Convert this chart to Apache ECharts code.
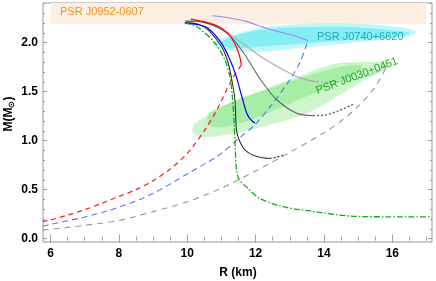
<!DOCTYPE html>
<html><head><meta charset="utf-8">
<script src="https://cdn.jsdelivr.net/npm/echarts@6/dist/echarts.min.js"></script>
<style>html,body{margin:0;padding:0;background:#fff}#c{width:436px;height:281px}</style>
</head><body><div id="c"></div>
<script>
// ---- tick values ----
var xMajor = [6, 8, 10, 12, 14, 16];
var xMinor = [6.5, 7, 7.5, 8.5, 9, 9.5, 10.5, 11, 11.5, 12.5, 13, 13.5, 14.5, 15, 15.5, 16.5, 17];
var yMajor = [0, 0.5, 1.0, 1.5, 2.0];
var yMinor = [0.1, 0.2, 0.3, 0.4, 0.6, 0.7, 0.8, 0.9, 1.1, 1.2, 1.3, 1.4, 1.6, 1.7, 1.8, 1.9, 2.1, 2.2, 2.3, 2.4];

// ---- observational regions (R km, M Msun) ----
var bandJ0952 = [[6, 2.188], [17, 2.188], [17, 2.41], [6, 2.41]];
var cyanOuter = [[10.75,1.997],[11.25,2.068],[12.12,2.15],[13.29,2.191],[14.46,2.201],[15.63,2.181],[16.36,2.15],[16.68,2.109],[16.51,2.068],[15.63,2.028],[14.46,1.987],[13.29,1.946],[12.41,1.915],[11.68,1.905],[11.1,1.925],[10.81,1.956]];
var cyanInner = [[11.01,2.007],[11.54,2.089],[12.41,2.14],[13.58,2.16],[14.75,2.16],[15.92,2.13],[16.51,2.099],[16.07,2.058],[14.75,2.028],[13.58,1.997],[12.41,1.966],[11.54,1.946],[11.1,1.966]];
var greenOuter = [[10.16,1.138],[10.37,1.21],[10.81,1.291],[11.39,1.383],[11.98,1.465],[12.56,1.567],[13.29,1.66],[13.88,1.741],[14.46,1.792],[15.19,1.803],[15.77,1.803],[15.89,1.772],[15.77,1.721],[15.19,1.619],[14.46,1.465],[13.58,1.291],[12.71,1.189],[11.83,1.108],[11.1,1.057],[10.51,1.036],[10.22,1.057]];
var greenInner = [[10.6,1.26],[11.1,1.363],[11.83,1.465],[12.71,1.567],[13.58,1.669],[14.46,1.751],[15.04,1.772],[15.1,1.721],[14.46,1.598],[13.58,1.465],[12.71,1.332],[11.83,1.21],[11.1,1.138],[10.66,1.158]];

// ---- M-R curves ----
var redSolid = [[10.1,2.24],[10.6,2.205],[10.95,2.16],[11.2,2.09],[11.38,2.0],[11.5,1.9],[11.56,1.82],[11.58,1.77]];
var redDashed = [[11.58,1.77],[11.3,1.62],[10.86,1.31],[10.5,1.1],[10.0,0.87],[9.5,0.71],[9.0,0.59],[8.5,0.5],[8.0,0.43],[7.5,0.36],[7.0,0.295],[6.5,0.24],[6.0,0.19],[5.77,0.175]];
var blueSolid = [[9.93,2.2],[10.3,2.185],[10.6,2.15],[11.0,1.995],[11.25,1.825],[11.44,1.65],[11.54,1.52],[11.63,1.41],[11.72,1.3],[11.8,1.24],[11.9,1.2],[11.98,1.18]];
var blueDashed = [[5.77,0.125],[6,0.145],[7,0.22],[8,0.32],[9,0.46],[10,0.66],[10.5,0.76],[11,0.87],[11.5,1.02],[12,1.17],[12.5,1.38],[13,1.62],[13.3,1.8],[13.54,2.03]];
var lavender = [[10.74,2.275],[11.2,2.255],[11.7,2.22],[12.2,2.16],[12.7,2.11],[13.1,2.075],[13.53,2.02]];
var grayDashed = [[5.77,0.085],[6,0.095],[7,0.135],[8,0.185],[9,0.275],[10,0.375],[11,0.515],[12,0.69],[13,0.88],[14,1.08],[14.5,1.2],[15,1.35],[15.5,1.55],[15.85,1.77]];
var lightGray = [[9.95,2.22],[10.37,2.215],[10.95,2.15],[11.63,1.99],[12.32,1.82],[13.1,1.67],[13.5,1.62],[13.8,1.6]];
var lightGrayDot = [[13.8,1.6],[14.3,1.6],[14.85,1.62],[15.4,1.68],[15.85,1.77]];
var darkGray = [[9.95,2.22],[10.37,2.215],[11.15,2.1],[11.64,1.9],[12.13,1.63],[12.61,1.42],[13.2,1.28],[13.68,1.255]];
var darkGrayDot = [[13.68,1.255],[14.0,1.26],[14.4,1.3],[14.85,1.37]];
var blackSolid = [[9.93,2.205],[10.3,2.19],[10.61,2.13],[11.0,1.96],[11.2,1.79],[11.34,1.55],[11.4,1.4],[11.44,1.11],[11.55,0.98],[11.7,0.9],[11.93,0.85],[12.2,0.825],[12.41,0.818]];
var blackDot = [[12.41,0.818],[12.6,0.83],[12.8,0.85]];
var greenDashDot = [[9.93,2.2],[10.3,2.16],[10.81,1.995],[11.1,1.825],[11.25,1.65],[11.32,1.45],[11.37,1.2],[11.4,0.95],[11.44,0.7],[11.52,0.6],[11.63,0.56],[11.78,0.51],[12.12,0.41],[12.8,0.325],[13.78,0.272],[14.75,0.23],[15.92,0.222],[17.15,0.221]];

var xMin = 5.78, xMax = 17.16, yMin = -0.035, yMax = 2.405;
var FONT = '"Liberation Sans", Arial, sans-serif';

function xAx(pos, vals, len, lab) {
  return {type:'value', min:xMin, max:xMax, position:pos, axisLine:{show:false}, splitLine:{show:false},
    axisTick:{show:true, inside:true, length:len, customValues:vals, lineStyle:{color:'#999', width:1}},
    axisLabel: lab ? {show:true, customValues:vals, color:'#000', fontWeight:'bold', fontSize:12, fontFamily:FONT, margin:6} : {show:false}};
}
function yAx(pos, vals, len, lab) {
  return {type:'value', min:yMin, max:yMax, position:pos, axisLine:{show:false}, splitLine:{show:false},
    axisTick:{show:true, inside:true, length:len, customValues:vals, lineStyle:{color:'#999', width:1}},
    axisLabel: lab ? {show:true, customValues:vals, color:'#000', fontWeight:'bold', fontSize:12, fontFamily:FONT, margin:5,
      formatter:function(v){return Number(v).toFixed(1);}} : {show:false}};
}
function poly(pts, color, z, sm) {
  return {type:'custom', xAxisIndex:0, yAxisIndex:0, z:z, silent:true, clip:true, data:[[pts[0][0], pts[0][1]]],
    renderItem:function(params, api){
      return {type:'polygon', shape:{points:pts.map(function(p){return api.coord(p);}), smooth:sm}, style:{fill:color}};
    }};
}
function line(data, color, type, width, z) {
  return {type:'line', xAxisIndex:0, yAxisIndex:0, data:data, showSymbol:false, symbol:'none', smooth:0.3, z:z||5,
    lineStyle:{color:color, type:type, width:width||1.2}, silent:true, animation:false};
}

var chart = echarts.init(document.getElementById('c'), null, {renderer:'canvas'});
chart.setOption({
  animation:false,
  grid:{left:43, top:3, right:4, bottom:39, show:true, borderColor:'#999', borderWidth:1, backgroundColor:'transparent'},
  xAxis:[xAx('bottom', xMajor, 4, true), xAx('bottom', xMinor, 2, false), xAx('top', xMajor, 4, false), xAx('top', xMinor, 2, false)],
  yAxis:[yAx('left', yMajor, 4, true), yAx('left', yMinor, 2, false), yAx('right', yMajor, 4, false), yAx('right', yMinor, 2, false)],
  series:[
    poly(bandJ0952, '#fdeee2', 1, 0),
    poly(cyanOuter, '#bdf7f9', 2, 0.35),
    poly(cyanInner, '#86eef3', 2, 0.35),
    poly(greenOuter, '#cdf6cd', 2, 0.35),
    poly(greenInner, '#a6eea6', 2, 0.35),
    line(grayDashed, '#999999', [6,5], 1.1),
    line(redDashed, '#ff1a1a', [5,4], 1.2),
    line(blueDashed, '#6070ff', [6,4], 1.1),
    line(lavender, '#8c8cf5', 'solid', 1.1),
    line(lightGray, '#aaaaaa', 'solid', 1.1),
    line(lightGrayDot, '#aaaaaa', [2,2], 1.4),
    line(darkGray, '#666666', 'solid', 1.1),
    line(darkGrayDot, '#666666', [2,2], 1.4),
    line(blackSolid, '#333333', 'solid', 1.1),
    line(blackDot, '#333333', [2,2], 1.4),
    line(redSolid, '#ff0000', 'solid', 1.2),
    line(blueSolid, '#0000ff', 'solid', 1.2),
    line(greenDashDot, '#11aa11', [6,2,1.5,2], 1.3)
  ],
  graphic:[
    {type:'text', x:60, y:12, z:100, style:{text:'PSR J0952-0607', fill:'#f7901e', font:'11px '+FONT, textAlign:'left', textVerticalAlign:'middle'}},
    {type:'text', x:317, y:37, z:100, style:{text:'PSR J0740+6620', fill:'#21a9b2', font:'11px '+FONT, textAlign:'left', textVerticalAlign:'middle'}},
    {type:'text', x:357, y:76, rotation:0.36, z:100, style:{text:'PSR J0030+0451', fill:'#1eaa1e', font:'11px '+FONT, textAlign:'center', textVerticalAlign:'middle'}},
    {type:'text', x:238, y:273, z:100, style:{text:'R (km)', fill:'#000', font:'bold 12px '+FONT, textAlign:'center', textVerticalAlign:'middle'}},
    {type:'text', x:9, y:114, rotation:Math.PI/2, z:100, style:{text:'M(M{s|⊙})', fill:'#000', font:'bold 12px '+FONT, textAlign:'center', textVerticalAlign:'middle',
      rich:{s:{font:'bold 8px '+FONT, fill:'#000', verticalAlign:'bottom', padding:[6,0,0,0]}}}}
  ]
});
</script></body></html>
